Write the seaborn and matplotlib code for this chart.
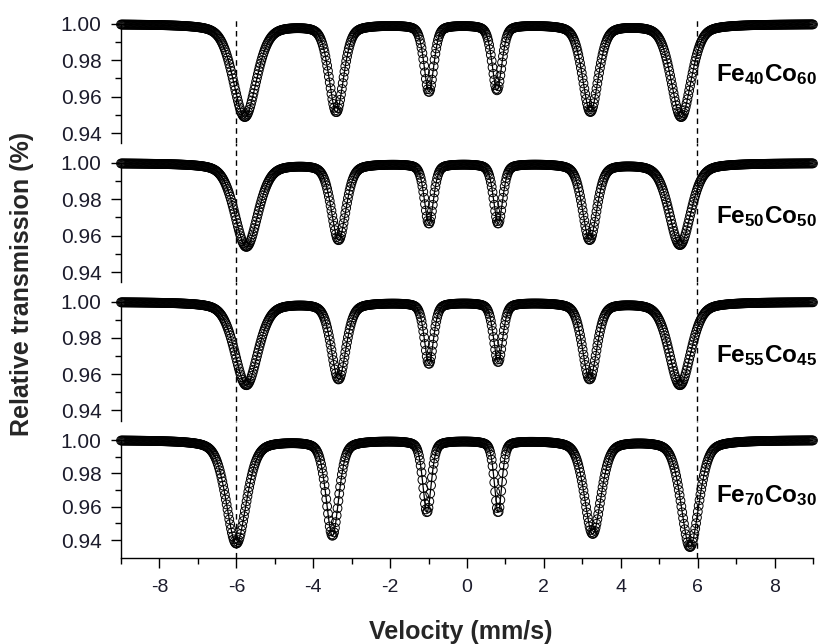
import numpy as np
import pandas as pd
import matplotlib
matplotlib.use("Agg")
import matplotlib.pyplot as plt
from matplotlib.ticker import FixedLocator
import seaborn as sns

# ---------------- data ----------------
samples = ["Fe40Co60", "Fe50Co50", "Fe55Co45", "Fe70Co30"]
sample_labels = [r"$\mathbf{Fe_{40}Co_{60}}$", r"$\mathbf{Fe_{50}Co_{50}}$",
                 r"$\mathbf{Fe_{55}Co_{45}}$", r"$\mathbf{Fe_{70}Co_{30}}$"]

# sextet line positions (mm/s), depths (1 - transmission) and widths (FWHM, mm/s)
pos_fe40co60 = [-5.78, -3.40, -0.99, 0.78, 3.21, 5.57]
depth_fe40co60 = [0.051, 0.048, 0.037, 0.036, 0.048, 0.051]
fwhm_fe40co60 = [0.72, 0.45, 0.30, 0.30, 0.49, 0.62]

pos_fe50co50 = [-5.74, -3.34, -0.99, 0.81, 3.19, 5.54]
depth_fe50co50 = [0.046, 0.042, 0.033, 0.033, 0.042, 0.045]
fwhm_fe50co50 = [0.72, 0.45, 0.28, 0.28, 0.44, 0.67]

pos_fe55co45 = [-5.74, -3.34, -0.99, 0.81, 3.19, 5.54]
depth_fe55co45 = [0.046, 0.0425, 0.034, 0.033, 0.0425, 0.046]
fwhm_fe55co45 = [0.72, 0.45, 0.28, 0.28, 0.44, 0.67]

pos_fe70co30 = [-6.00, -3.50, -1.04, 0.81, 3.27, 5.80]
depth_fe70co30 = [0.062, 0.057, 0.043, 0.043, 0.056, 0.064]
fwhm_fe70co30 = [0.62, 0.39, 0.26, 0.23, 0.51, 0.55]

lorentz_fraction = 0.4          # pseudo-Voigt mixing of the fitted line shape
n_channels = 800
velocity_range = [-9.0, 9.0]
x_major_ticks = [-8, -6, -4, -2, 0, 2, 4, 6, 8]
x_minor_ticks = [-9, -7, -5, -3, -1, 1, 3, 5, 7, 9]
y_major_ticks = [0.94, 0.96, 0.98, 1.00]
y_minor_ticks = [0.95, 0.97, 0.99]
reference_lines = [-6.0, 5.97]

params = [
    (pos_fe40co60, depth_fe40co60, fwhm_fe40co60),
    (pos_fe50co50, depth_fe50co50, fwhm_fe50co50),
    (pos_fe55co45, depth_fe55co45, fwhm_fe55co45),
    (pos_fe70co30, depth_fe70co30, fwhm_fe70co30),
]

velocity = np.linspace(velocity_range[0], velocity_range[1], n_channels)


def sextet(v, pos, depth, fwhm, eta=lorentz_fraction):
    t = np.ones_like(v)
    for p, d, w in zip(pos, depth, fwhm):
        u = 2 * (v - p) / w
        gauss = np.exp(-np.log(2) * u ** 2)
        lor = 1 / (1 + u ** 2)
        t -= d * ((1 - eta) * gauss + eta * lor)
    return t


frames = []
for name, (p, d, w) in zip(samples, params):
    frames.append(pd.DataFrame({"velocity": velocity,
                                "transmission": sextet(velocity, p, d, w),
                                "sample": name}))
df = pd.concat(frames, ignore_index=True)

# ---------------- style ----------------
sns.set_theme(style="ticks")
plt.rcParams["font.family"] = ["Liberation Sans", "DejaVu Sans"]
plt.rcParams["axes.unicode_minus"] = False
plt.rcParams["mathtext.fontset"] = "custom"
plt.rcParams["mathtext.rm"] = "Liberation Sans"
plt.rcParams["mathtext.bf"] = "Liberation Sans:bold"
plt.rcParams["mathtext.it"] = "Liberation Sans:italic"

W, H = 824, 644
fig = plt.figure(figsize=(W / 100, H / 100), dpi=100)

left_px, right_px = 121, 813
tops = [4, 143, 282, 421]
bottoms = [143, 282, 421, 558]
ylims = [(0.9345, 1.011), (0.9345, 1.011), (0.934, 1.011), (0.9292, 1.0114)]
label_y = [0.9686, 0.967, 0.9664, 0.963]
tick_color = "#1c1c2c"

for i, name in enumerate(samples):
    t, b = tops[i], bottoms[i]
    ax = fig.add_axes([left_px / W, 1 - b / H, (right_px - left_px) / W, (b - t) / H])
    ax.set_facecolor("none")
    sub = df[df["sample"] == name]
    sns.lineplot(data=sub, x="velocity", y="transmission", ax=ax, color="black",
                 linewidth=0.9, legend=False, zorder=2)
    sns.scatterplot(data=sub, x="velocity", y="transmission", ax=ax, marker="o",
                    s=40, facecolor="none", edgecolor="black", linewidth=0.7,
                    legend=False, clip_on=False, zorder=3)
    ax.set_xlim(*velocity_range)
    ax.set_ylim(*ylims[i])
    ax.set_xlabel("")
    ax.set_ylabel("")

    for x0 in reference_lines:
        ymax = 1.0 if i > 0 else (1.0033 - ylims[i][0]) / (ylims[i][1] - ylims[i][0])
        ax.axvline(x0, ymin=0, ymax=ymax, color="black", linewidth=1.0,
                   linestyle=(0, (4, 3)), zorder=1)

    ax.yaxis.set_major_locator(FixedLocator(y_major_ticks))
    ax.yaxis.set_minor_locator(FixedLocator(y_minor_ticks))
    ax.set_yticklabels([f"{v:.2f}" for v in y_major_ticks])
    ax.tick_params(axis="y", which="major", direction="out", length=7, width=1.0,
                   labelsize=15, pad=7, colors="black", labelcolor=tick_color)
    ax.tick_params(axis="y", which="minor", direction="out", length=4, width=1.0,
                   colors="black")

    for s in ["top", "right"]:
        ax.spines[s].set_visible(False)
    ax.spines["left"].set_bounds(ylims[i][0], 1.0)
    ax.spines["left"].set_linewidth(1.0)
    ax.spines["left"].set_color("black")

    if i < 3:
        ax.spines["bottom"].set_visible(False)
        ax.set_xticks([])
    else:
        ax.spines["bottom"].set_linewidth(1.0)
        ax.spines["bottom"].set_color("black")
        ax.xaxis.set_major_locator(FixedLocator(x_major_ticks))
        ax.xaxis.set_minor_locator(FixedLocator(x_minor_ticks))
        ax.set_xticklabels([str(v) for v in x_major_ticks])
        ax.tick_params(axis="x", which="major", direction="out", length=7, width=1.0,
                       labelsize=14, pad=8, colors="black", labelcolor=tick_color)
        ax.tick_params(axis="x", which="minor", direction="out", length=4, width=1.0,
                       colors="black")

    ax.text(6.48, label_y[i], sample_labels[i], ha="left", va="baseline",
            fontsize=17.5, color="black", clip_on=False)

fig.text(22 / W, 1 - 284 / H, "Relative transmission (%)", rotation=90,
         ha="center", va="center", fontsize=18, fontweight="bold")
fig.text(461 / W, 1 - 632 / H, "Velocity (mm/s)", ha="center", va="center",
         fontsize=18, fontweight="bold")

fig.savefig("out.png", dpi=100)
